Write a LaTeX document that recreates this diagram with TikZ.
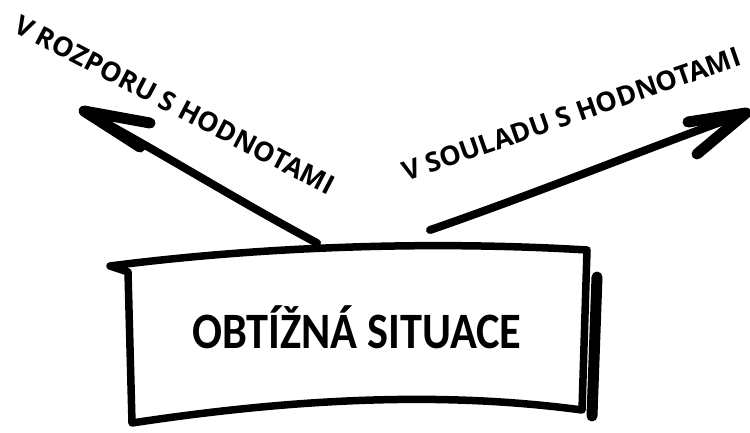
\documentclass[tikz,border=0pt]{standalone}
\usepackage{fontspec}
\setmainfont{Carlito}
\newfontfamily\labfont{Open Sans}
\tikzset{
  pen/.style={line width=8pt, line cap=round, line join=round},
  barb/.style={line width=11pt, line cap=round, line join=round},
  boxpen/.style={line width=7.5pt, line cap=round, line join=round},
  lab/.style={font=\labfont\bfseries\fontsize{27pt}{27pt}\selectfont, inner sep=0pt, anchor=base west}
}
\begin{document}
\begin{tikzpicture}[x=1pt,y=1pt]
\useasboundingbox (0,0) rectangle (750,432);
% box
\draw[boxpen] (110,166) .. controls (250,184) and (420,192) .. (587,182)
  -- (582,22) .. controls (470,37) and (330,39) .. (132,9)
  -- (128,160) -- cycle;
\draw[line width=11pt, line cap=round] (597,155) -- (592,16);
\node[font=\bfseries\fontsize{51pt}{51pt}\selectfont, anchor=base] (sit) at (357,84) {\scalebox{0.87}[1]{OBTÍŽNÁ SITUACE}};
% left arrow
\coordinate (ltail) at (317,189);
\coordinate (ltip) at (84,321);
\coordinate (lb1) at (150,309);
\coordinate (lb2) at (140,285);
\draw[pen] (ltail) .. controls (240,230) and (160,280) .. (ltip);
\draw[barb] (lb1) -- (ltip) -- (lb2);
% right arrow
\coordinate (rtail) at (430,202);
\coordinate (rtip) at (746,319);
\coordinate (rb1) at (688,310);
\coordinate (rb2) at (697,278);
\draw[pen] (rtail) .. controls (540,240) and (650,285) .. (rtip);
\draw[barb] (rb1) -- (rtip) -- (rb2);
% labels
\node[lab, rotate=-27.5] (lrozpor) at (12,401) {V ROZPORU S HODNOTAMI};
\node[lab, rotate=19.2] (lsoulad) at (406,250) {V SOULADU S HODNOTAMI};
\end{tikzpicture}
\end{document}
